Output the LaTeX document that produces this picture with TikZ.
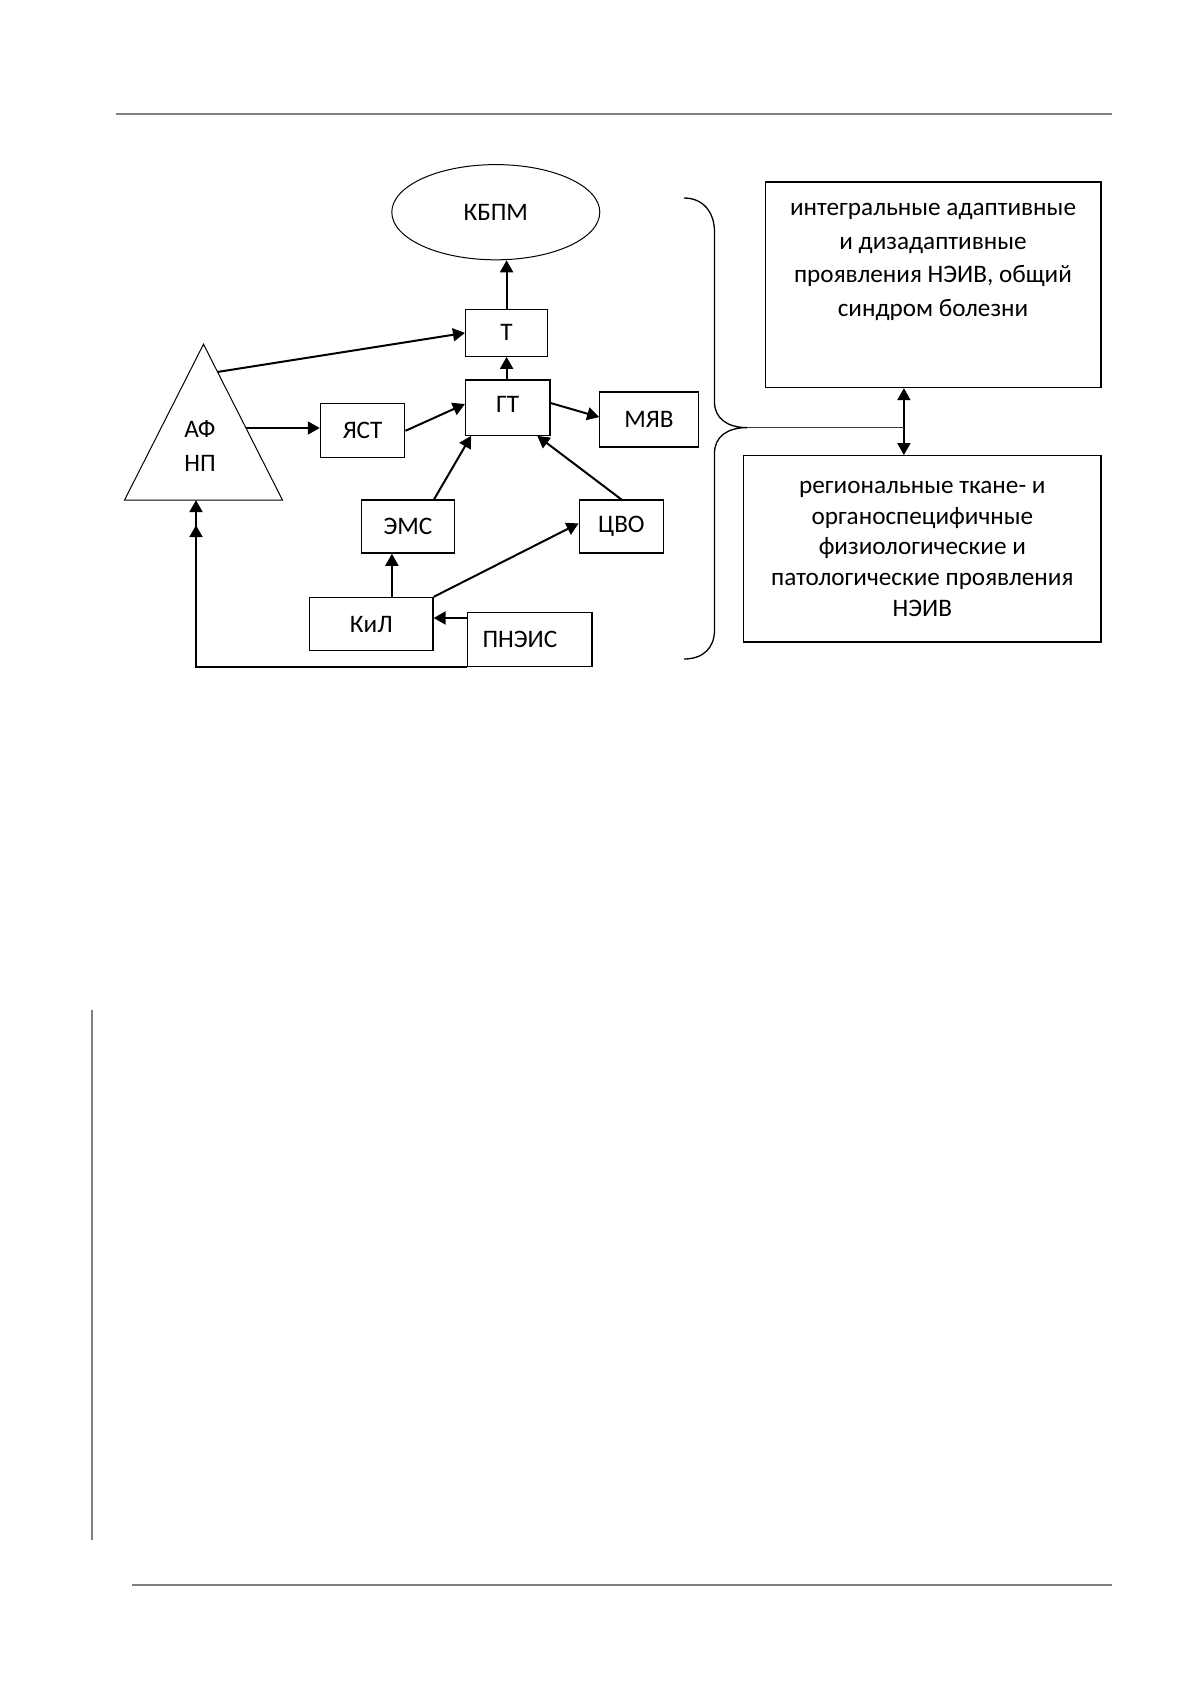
\documentclass[tikz,border=0pt]{standalone}
\usepackage{fontspec}
\setmainfont{Carlito}
\usetikzlibrary{shapes}
\usetikzlibrary{arrows.meta}
\usetikzlibrary{calc}
\usetikzlibrary{positioning}
\definecolor{rulegray}{HTML}{808080}
\definecolor{bracegray}{HTML}{3A3A3A}
\tikzset{x=0.5bp, y=-0.5bp, every node/.style={align=center, font={\fontsize{12.6bp}{15.4bp}\selectfont}}}
\tikzstyle{block} = [draw=black, fill=white, inner sep=0pt, line width=0.65bp]
\tikzstyle{ln} = [draw, line width=1bp, arrows={-Triangle[length=6bp, width=6.5bp]}]
\tikzstyle{rule} = [draw=rulegray, line width=1bp]
\tikzstyle{tipd} = [-{Triangle[length=6bp, width=6.5bp, sep=6.5bp] Triangle[length=6bp, width=6.5bp]}]

\begin{document}
\begin{tikzpicture}
  \useasboundingbox[fill=white] (0,0) rectangle (1197,1693);
  \draw[rule] (116,113.5) -- (1112,113.5);
  \draw[rule] (92,1010) -- (92,1540);
  \draw[rule] (132,1585) -- (1112,1585);

  \node[ellipse, draw, line width=0.5bp, inner sep=0pt, minimum width=104bp, minimum height=47.6bp] (kbpm) at (495.8,212.2) {КБПМ};
  \node[block, minimum width=41bp, minimum height=23.3bp] (t) at (506.6,332.9) {Т};
  \node[block, minimum width=42.2bp, minimum height=27.6bp, text depth=3bp] (gt) at (507.7,407.6) {ГТ};
  \node[block, minimum width=49.2bp, minimum height=27.6bp] (myav) at (649,419.5) {МЯВ};
  \node[block, minimum width=42.2bp, minimum height=27bp] (yast) at (362.6,430.8) {ЯСТ};
  \node[block, minimum width=46.5bp, minimum height=26.5bp] (ems) at (408,526.6) {ЭМС};
  \node[block, minimum width=42.2bp, minimum height=26.5bp] (cvo) at (621.4,526.6) {ЦВО};
  \node[block, minimum width=61.7bp, minimum height=26.5bp] (kil) at (371.3,624) {КиЛ};
  \node[block, minimum width=62.2bp, minimum height=27bp] (pneis) at (529.9,639.8) {ПНЭИС\hspace*{10bp}};

  \coordinate (apex) at (203.5,344.2);
  \coordinate (bl) at (124.5,500.1);
  \coordinate (br) at (282.5,500.1);
  \draw[line width=0.5bp] (apex) -- (br) -- (bl) -- cycle;
  \node[font={\fontsize{12.6bp}{17.3bp}\selectfont}] (afnp) at (200,446) {АФ\\НП};
  \coordinate (trione) at ($(apex)!0.178!(br)$);
  \coordinate (tritwo) at ($(apex)!0.5375!(br)$);
  \coordinate (fb) at ($(bl)!0.4525!(br)$);

  \node[block, minimum width=167.8bp, minimum height=102.8bp] (integr) at (933.1,284.7) {};
  \node[font={\fontsize{12.6bp}{16.75bp}\selectfont}] (integrtxt) at (933,262) {интегральные адаптивные\\и дизадаптивные\\проявления НЭИВ, общий\\синдром болезни};
  \node[block, minimum width=178.6bp, minimum height=93.1bp] (reg) at (922.3,548.8) {региональные ткане- и\\органоспецифичные\\физиологические и\\патологические проявления\\НЭИВ};

  \coordinate (bracetip) at (747,427.6);
  \coordinate (arrx) at (903.9,427.6);

  \path[ln] (t.north) -- (t.north |- kbpm.south);
  \path[ln] (gt.north -| t.south) -- (t.south);
  \path[ln] (trione) -- (t.west);
  \path[ln] (tritwo) -- (tritwo -| yast.west);
  \path[ln] (yast.east) -- ([yshift=1.8bp]gt.west);
  \path[ln] ([yshift=2.3bp]gt.east) -- ([yshift=1.2bp]myav.west);
  \path[ln] ([xshift=13bp]ems.north) -- ([xshift=-18.3bp]gt.south);
  \path[ln] (cvo.north) -- ([xshift=14.8bp]gt.south);
  \path[ln] ([xshift=10.3bp]kil.north) -- ([xshift=10.3bp]kil.north |- ems.south);
  \path[ln] (kil.north east) -- ([yshift=1.6bp]cvo.west);
  \path[ln] ([yshift=3bp]kil.east -| pneis.west) -- ([yshift=3bp]kil.east);
  \path[ln, tipd] (pneis.south west) -| (fb);
  \path[ln, {Triangle[length=6bp, width=6.5bp]}-{Triangle[length=6bp, width=6.5bp]}] (integr.south -| arrx) -- (reg.north -| arrx);

  \draw[line width=0.65bp] (684,198) .. controls (703,198) and (714.5,212) .. (714.5,232) -- (714.5,402) .. controls (714.5,418) and (727,427.6) .. (bracetip) .. controls (727,427.6) and (714.5,437) .. (714.5,453) -- (714.5,630) .. controls (714.5,648) and (703,659) .. (684,659);
  \draw[draw=bracegray, line width=0.5bp] (bracetip) -- (arrx);
\end{tikzpicture}
\end{document}
